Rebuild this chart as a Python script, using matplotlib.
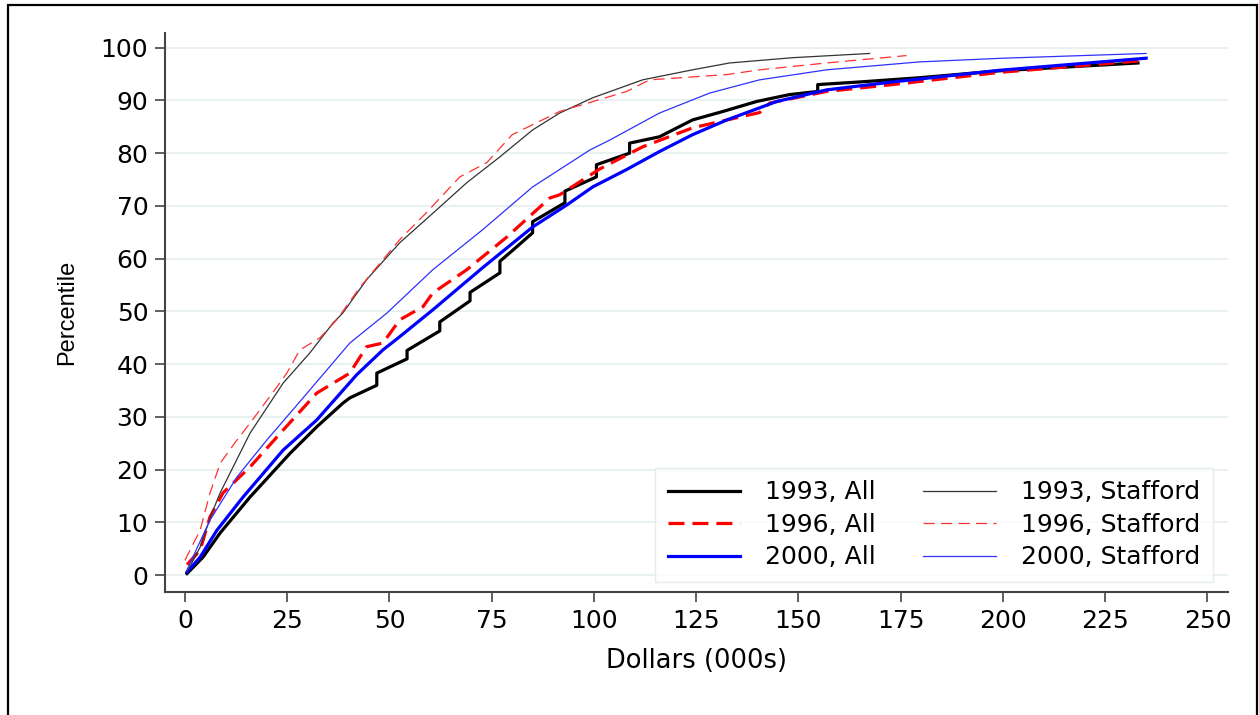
import matplotlib
matplotlib.use("Agg")
import matplotlib.pyplot as plt
from matplotlib.patches import Rectangle

# the reference text is wide, so a wide sans is used for horizontal text
plt.rcParams["font.family"] = ["DejaVu Sans"]

# percentile curves (x = dollars in 000s, y = percentile)
all_1993_x = [0.5, 4.4, 8.6, 15.9, 25.7, 32.2, 38.6, 40.3, 46.9, 46.9, 54.3, 54.3, 62.3,
              62.3, 69.7, 69.7, 77.0, 77.0, 80.0, 85.0, 85.0, 92.9, 92.9, 100.6, 100.6,
              108.7, 108.7, 116.0, 124.1, 131.5, 139.8, 147.8, 154.7, 154.7, 165.0,
              179.6, 199.0, 233.0]
all_1993_y = [0.3, 3.4, 8.0, 14.8, 23.1, 28.1, 32.6, 33.6, 36.0, 38.3, 41.0, 42.6, 46.3,
              48.0, 52.0, 53.6, 57.3, 59.5, 61.5, 64.9, 67.0, 70.6, 72.8, 75.5, 77.8,
              80.0, 81.9, 83.1, 86.3, 87.9, 89.8, 91.1, 91.7, 93.0, 93.5,
              94.3, 95.6, 97.1]

all_1996_x = [0.5, 3.7, 6.1, 9.3, 15.9, 24.0, 32.2, 40.3, 44.4, 48.4, 52.5, 58.2, 60.6,
              68.9, 78.7, 89.2, 91.6, 101.4, 111.9, 124.1, 140.5, 143.0, 156.9, 173.0,
              199.0, 235.0]
all_1996_y = [2.0, 4.7, 11.0, 15.6, 20.5, 27.5, 34.5, 38.3, 43.3, 44.0, 48.4, 50.9, 53.5,
              57.9, 64.1, 71.5, 72.1, 77.0, 81.2, 84.8, 87.7, 89.5, 91.7, 93.0,
              95.3, 97.6]

all_2000_x = [0.5, 3.7, 7.8, 14.2, 24.0, 32.2, 42.0, 48.4, 52.5, 60.6, 72.8, 85.0, 93.4,
              99.7, 108.0, 116.0, 124.1, 132.5, 144.7, 156.9, 173.0, 199.0, 235.0]
all_2000_y = [0.6, 3.4, 8.5, 14.8, 23.7, 29.4, 38.0, 42.7, 45.2, 50.3, 58.3, 66.0, 70.2,
              73.6, 76.9, 80.3, 83.5, 86.3, 89.8, 92.0, 93.5, 95.7, 98.0]

st_1993_x = [0.5, 3.7, 6.6, 8.6, 15.9, 24.0, 30.5, 36.2, 38.6, 44.4, 52.5, 61.6, 68.9,
             77.0, 85.0, 91.6, 99.7, 111.9, 124.1, 133.2, 148.6, 167.4]
st_1993_y = [0.6, 5.3, 11.8, 15.6, 26.9, 36.4, 42.1, 47.8, 49.7, 56.0, 63.0, 69.3, 74.4,
             79.3, 84.4, 87.6, 90.5, 93.9, 95.8, 97.1, 98.1, 98.9]

st_1996_x = [0.0, 1.2, 3.7, 6.1, 8.6, 12.7, 15.9, 22.5, 24.9, 28.1, 31.3, 33.0, 37.1,
             42.8, 52.5, 59.0, 67.2, 73.8, 80.0, 91.6, 108.0, 113.6, 132.5, 140.5,
             156.9, 176.4]
st_1996_y = [2.8, 4.7, 8.5, 15.5, 21.2, 25.6, 28.8, 35.7, 38.3, 42.7, 44.2, 45.0, 48.4,
             54.6, 63.6, 68.7, 75.5, 78.2, 83.5, 87.9, 91.7, 93.9, 94.9, 95.8,
             97.1, 98.5]

st_2000_x = [0.5, 6.1, 12.7, 20.0, 28.1, 40.3, 49.4, 60.6, 72.8, 85.0, 91.6, 99.0,
             103.9, 116.0, 128.3, 140.5, 156.9, 179.6, 200.0, 235.0]
st_2000_y = [1.0, 10.4, 18.6, 25.6, 32.9, 44.0, 49.7, 57.9, 65.5, 73.6, 76.9, 80.6,
             82.5, 87.6, 91.4, 93.9, 95.8, 97.3, 98.0, 98.9]

x_ticks = [0, 25, 50, 75, 100, 125, 150, 175, 200, 225, 250]
y_ticks = [0, 10, 20, 30, 40, 50, 60, 70, 80, 90, 100]

fig = plt.figure(figsize=(12.59, 7.15), dpi=100)
ax = fig.add_axes([0.131, 0.172, 0.844, 0.782])

for y in y_ticks:
    ax.axhline(y, color="#e6eff1", lw=1.3, zorder=0)

ax.plot(all_1993_x, all_1993_y, color="black", lw=2.3, label="1993, All")
ax.plot(all_1996_x, all_1996_y, color="#ff0000", lw=2.3, dashes=(5, 2.5), label="1996, All")
ax.plot(all_2000_x, all_2000_y, color="#0000ff", lw=2.3, label="2000, All")
ax.plot(st_1993_x, st_1993_y, color="#333333", lw=0.9, label="1993, Stafford")
ax.plot(st_1996_x, st_1996_y, color="#ff3030", lw=0.9, dashes=(9, 5), label="1996, Stafford")
ax.plot(st_2000_x, st_2000_y, color="#3030ff", lw=0.9, label="2000, Stafford")

ax.set_xlim(-4.9, 254.9)
ax.set_ylim(-3.2, 102.8)
ax.set_xticks(x_ticks)
ax.set_yticks(y_ticks)
ax.tick_params(labelsize=18, length=7, width=1.2, color="#444444", pad=5)

for side in ["top", "right"]:
    ax.spines[side].set_visible(False)
for side in ["left", "bottom"]:
    ax.spines[side].set_color("#444444")
    ax.spines[side].set_linewidth(1.5)

ax.set_xlabel("Dollars (000s)", fontsize=18.5, labelpad=11)
ax.set_ylabel("Percentile", fontsize=17, family=["Liberation Sans", "DejaVu Sans"],
              labelpad=16)

leg = ax.legend(ncol=2, loc="lower right", bbox_to_anchor=(0.986, 0.018),
                borderaxespad=0, fontsize=18, frameon=True, fancybox=False,
                edgecolor="#dfe8ea", handlelength=2.9, columnspacing=1.9,
                labelspacing=0.34, borderpad=0.5, handletextpad=1.0)
leg.get_frame().set_linewidth(1.0)

# outer page frame around the figure
fig.patches.append(Rectangle((8 / 1259, -0.05), 1249 / 1259, 1.05 - 5 / 715,
                             transform=fig.transFigure, fill=False,
                             edgecolor="black", lw=1.6))

fig.savefig("out.png", dpi=100)
